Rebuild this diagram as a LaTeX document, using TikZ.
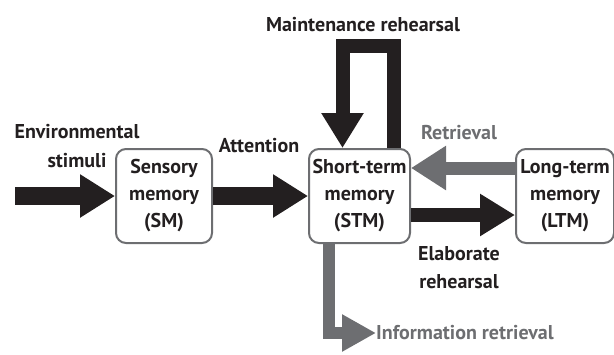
\documentclass[tikz,border=0pt]{standalone}
\usepackage{fontspec}
\setmainfont{PT Sans}
\usepackage{tikz}
\usetikzlibrary{arrows.meta, positioning}

\definecolor{ink}{HTML}{231F20}
\definecolor{ash}{HTML}{6D6E71}

\tikzset{
  mem/.style={draw=ash, line width=2pt, rounded corners=10pt, fill=white, align=center,
    font=\bfseries\fontsize{20}{27}\selectfont, text=ink, minimum height=94pt, inner sep=0pt},
  lbl/.style={align=center, font=\bfseries\fontsize{20}{29}\selectfont, text=ink, inner sep=0pt},
  fat/.style={draw=ink, line width=18pt, -{Triangle[length=35pt,width=41pt]}},
  bent/.style={line width=14pt, line join=miter},
}

\begin{document}
\begin{tikzpicture}[x=1pt,y=-1pt]
  \useasboundingbox (0,0) rectangle (614,354);

  % memory stores
  \node[mem, minimum width=96pt] (sm) at (164,196) {Sensory\\memory\\(SM)};
  \node[mem, minimum width=101pt, right=95pt of sm] (stm) {Short-term\\memory\\(STM)};
  \node[mem, minimum width=98pt, right=104pt of stm] (ltm) {Long-term\\memory\\(LTM)};

  % labels
  \node[lbl] (envlbl) at (77,146) {Environmental\\stimuli};
  \node[lbl] (attlbl) at (259,146) {Attention};
  \node[lbl] (mainlbl) at (363,25) {Maintenance rehearsal};
  \node[lbl, text=ash] (retlbl) at (459,133) {Retrieval};
  \node[lbl, font=\bfseries\fontsize{20}{28}\selectfont] (elablbl) at (459,268) {Elaborate\\rehearsal};
  \node[lbl, text=ash, anchor=west] (info) at (376,333) {Information retrieval};

  \coordinate (envin) at (15,196);
  \coordinate (mtop) at (365,46);

  % flows
  \draw[fat] (envin) -- (sm.west);
  \draw[fat] (sm) -- (stm);
  \draw[ink, bent, -{Triangle[length=35pt,width=40pt]}]
    ([yshift=-19pt]stm.east) -- ([yshift=-19pt]ltm.west);
  \draw[ash, line width=13pt, -{Triangle[length=35pt,width=42pt]}]
    ([yshift=28pt]ltm.west) -- ([yshift=28pt]stm.east);
  \draw[ink, bent, -{Triangle[length=35pt,width=40pt]}]
    ([xshift=34pt]stm.north) |- (mtop) -| ([xshift=-17pt]stm.north);
  \draw[ash, bent, line width=12pt, -{Triangle[length=34pt,width=35pt]}]
    ([xshift=-31pt]stm.south) |- (info.west);
\end{tikzpicture}
\end{document}
